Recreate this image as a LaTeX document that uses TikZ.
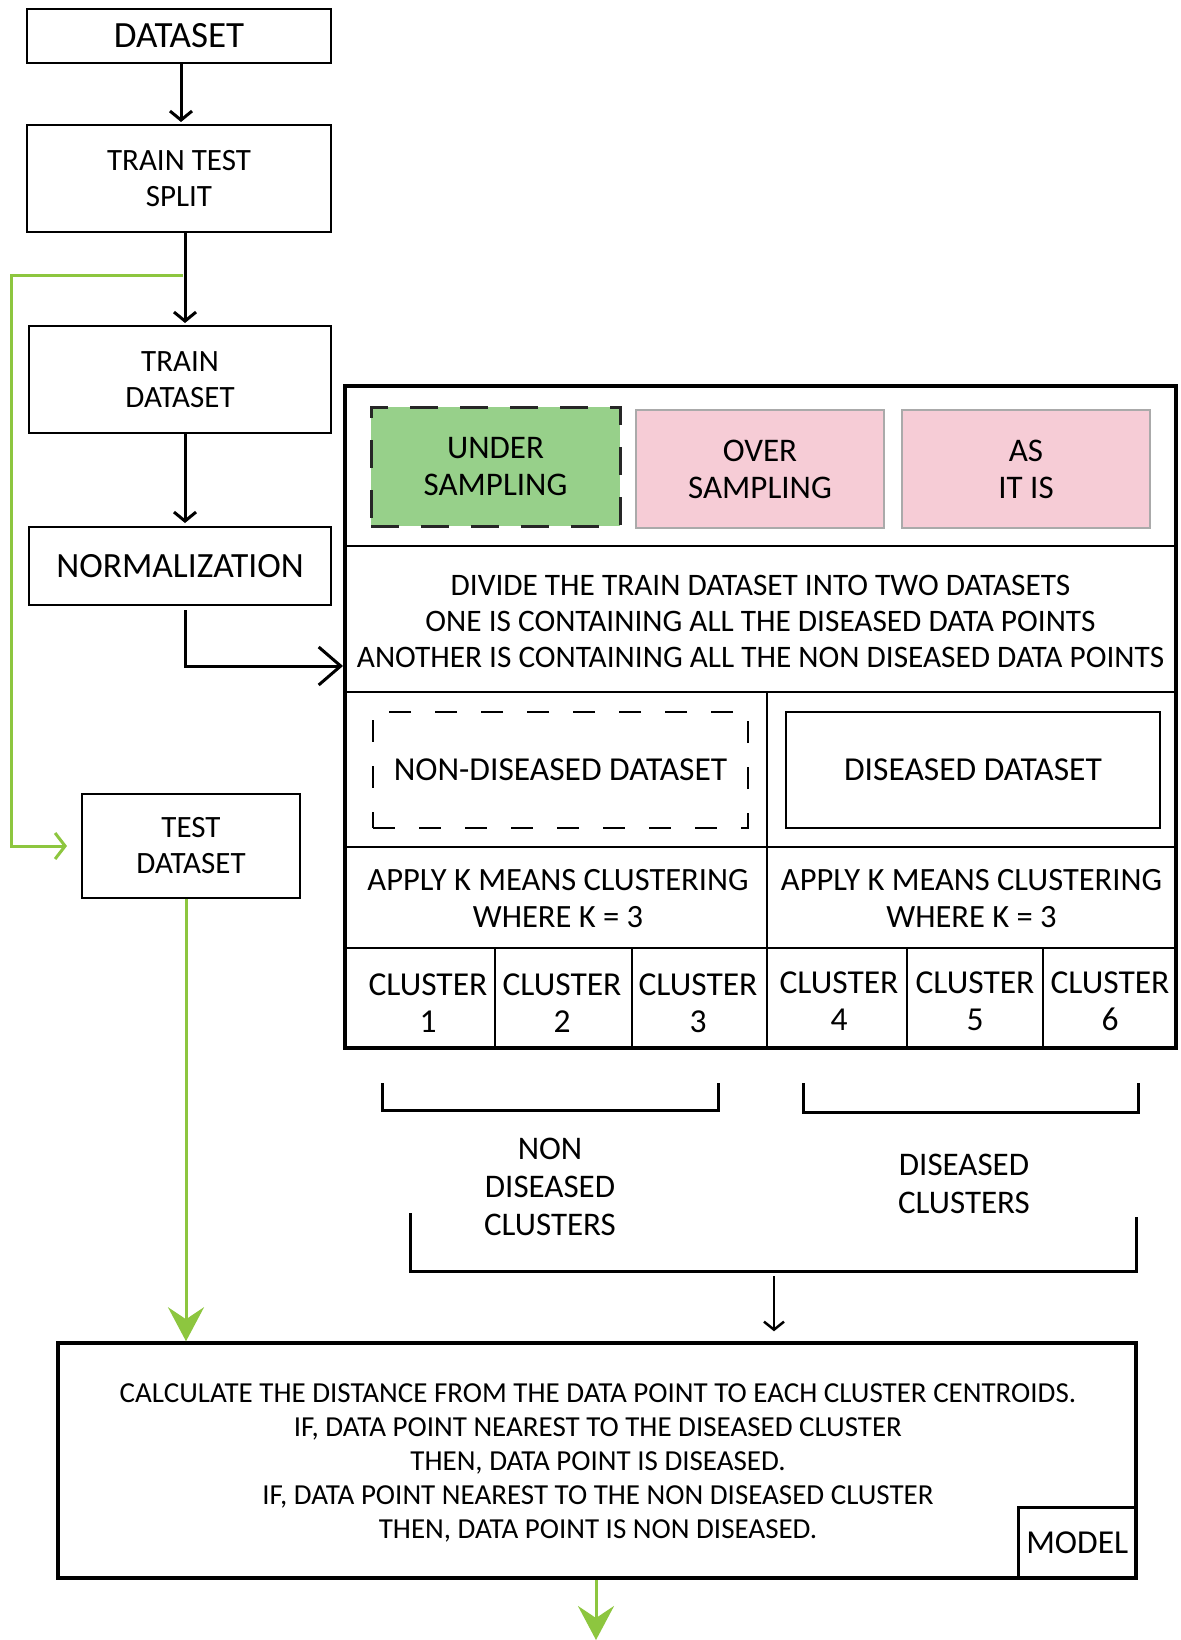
\documentclass[tikz,border=0pt]{standalone}
\usepackage{fontspec}
\setmainfont{Carlito}
\usetikzlibrary{arrows.meta,calc}
\newcommand\fsz[2]{\fontsize{#1}{#2}\selectfont}
\definecolor{leaf}{HTML}{8DC63F}
\definecolor{mint}{HTML}{97D08A}
\definecolor{blush}{HTML}{F6CCD6}
\definecolor{frame}{HTML}{AAAAAA}

\begin{document}
\begin{tikzpicture}[x=1pt,y=-1pt,
  box/.style={draw, line width=2pt, align=center, inner sep=0pt, font=\fsz{31}{36}},
  label/.style={align=center, inner sep=0pt, font=\fsz{33.5}{37}},
  pinkbox/.style={draw=frame, fill=blush, line width=1.5pt, align=center, inner sep=0pt,
    minimum width=248pt, minimum height=118pt, font=\fsz{33}{37}},
  arr/.style={line width=3pt, -{Straight Barb[length=9pt,width=22pt,line width=3pt]}},
  gline/.style={draw=leaf, line width=3pt},
  garr/.style={gline, -{Straight Barb[length=10pt,width=26pt,line width=3pt]}},
  gbig/.style={gline, -{Stealth[length=34pt,width=36pt,inset=12pt]}, leaf},
  rule/.style={line width=2pt},
]
\useasboundingbox (0,0) rectangle (1180,1640);

% left column
\node[box, minimum width=304pt, minimum height=54pt, font=\fsz{37}{40}] (dataset) at (179,36) {DATASET};
\node[box, minimum width=304pt, minimum height=107pt] (split) at (179,178.5) {TRAIN TEST\\SPLIT};
\node[box, minimum width=302pt, minimum height=107pt] (train) at (180,379.5) {TRAIN\\DATASET};
\node[box, minimum width=302pt, minimum height=78pt, font=\fsz{35.5}{40}] (norm) at (180,566) {NORMALIZATION};
\node[box, minimum width=218pt, minimum height=104pt] (test) at (191,846) {TEST\\DATASET};

\draw[arr, shorten >=2pt] (dataset.south -| 181,0) -- (split.north -| 181,0);
\coordinate (fork) at (183,275);
\draw[arr, shorten >=2pt] (split.south -| 185,0) -- (train.north -| 185,0);
\draw[arr, shorten >=3pt] (train.south -| 185,0) -- (norm.north -| 185,0);

% main processing block
\node[draw, line width=4pt, minimum width=831pt, minimum height=662pt, inner sep=0pt] (main) at (760.5,717) {};

\draw[arr, -{Straight Barb[length=22pt,width=38pt,line width=3pt]}] ($(norm.south -| 185,0)+(0,4)$) |- (main.west |- 0,666);

\node[draw=black!85, dash pattern=on 28pt off 22pt, line width=3pt, fill=mint, align=center,
  inner sep=0pt, minimum width=249pt, minimum height=119pt, font=\fsz{33}{37}] (under) at (495.5,466.5) {UNDER\\SAMPLING};
\node[pinkbox] (over) at (760,469) {OVER\\SAMPLING};
\node[pinkbox] (asis) at (1026,469) {AS\\IT IS};

\draw[rule] (main.west |- 0,546) -- (main.east |- 0,546);
\node[label, font=\fsz{31.3}{36}] (divide) at (760.5,621) {DIVIDE THE TRAIN DATASET INTO TWO DATASETS\\ONE IS CONTAINING ALL THE DISEASED DATA POINTS\\ANOTHER IS CONTAINING ALL THE NON DISEASED DATA POINTS};
\draw[rule] (main.west |- 0,692) -- (main.east |- 0,692);
\draw[rule] (767,692) -- (767,1048);

\node[draw, dash pattern=on 22pt off 24pt, line width=2pt, minimum width=375pt, minimum height=116pt,
  inner sep=0pt, font=\fsz{33.5}{37}] (nondis) at (560.5,770) {NON-DISEASED DATASET};
\node[draw, line width=2pt, minimum width=374pt, minimum height=116pt,
  inner sep=0pt, font=\fsz{33.5}{37}] (dis) at (973,770) {DISEASED DATASET};

\draw[rule] (main.west |- 0,847) -- (main.east |- 0,847);
\node[label, font=\fsz{32.5}{37}] (apply1) at (558,899) {APPLY K MEANS CLUSTERING\\WHERE K = 3};
\node[label, font=\fsz{32.5}{37}] (apply2) at (971.5,899) {APPLY K MEANS CLUSTERING\\WHERE K = 3};
\draw[rule] (main.west |- 0,948) -- (main.east |- 0,948);
\foreach \xx in {495,632,907,1043} \draw[rule] (\xx,948) -- (\xx,1048);

\node[label] (c1) at (428,1003) {CLUSTER\\1};
\node[label] (c2) at (562,1003) {CLUSTER\\2};
\node[label] (c3) at (698,1003) {CLUSTER\\3};
\node[label] (c4) at (839,1001) {CLUSTER\\4};
\node[label] (c5) at (975,1001) {CLUSTER\\5};
\node[label] (c6) at (1110,1001) {CLUSTER\\6};

% grouping brackets
\draw[line width=3pt] (382,1083) -- (382,1110) -- (718,1110) -- (718,1083);
\draw[line width=3pt] (803,1083) -- (803,1112) -- (1138,1112) -- (1138,1083);
\node[label, font=\fsz{33}{38}] (nondiscl) at (550,1187) {NON\\DISEASED\\CLUSTERS};
\node[label, font=\fsz{33}{38}] (discl) at (964,1184) {DISEASED\\CLUSTERS};
\draw[line width=3pt] (410,1213) -- (410,1271) -- (1136,1271) -- (1136,1217);
\coordinate (merge) at (774,1276);

% model
\node[draw, line width=3.5pt, minimum width=1078pt, minimum height=235pt, inner sep=0pt] (model) at (597,1460.5) {};
\node[align=center, inner sep=0pt, font=\fsz{29}{34}] (rules) at (598,1463) {CALCULATE THE DISTANCE FROM THE DATA POINT TO EACH CLUSTER CENTROIDS.\\IF, DATA POINT NEAREST TO THE DISEASED CLUSTER\\THEN, DATA POINT IS DISEASED.\\IF, DATA POINT NEAREST TO THE NON DISEASED CLUSTER\\THEN, DATA POINT IS NON DISEASED.};
\node[draw, line width=3pt, anchor=south east, minimum width=118pt, minimum height=71pt,
  inner sep=0pt, font=\fsz{33.5}{36}] (tag) at (model.south east) {MODEL};

\draw[line width=2.5pt, -{Straight Barb[length=8pt,width=20pt,line width=2.5pt]}, shorten >=10pt] (merge) -- (model.north -| merge);

% test-set path
\draw[garr, shorten >=14pt] (fork) -- (11,275) |- (test.west);
\draw[gbig] (test.south -| 186,0) -- (model.north -| 186,0);
\coordinate (out) at (596,1640);
\draw[gbig] (model.south -| out) -- (out);
\end{tikzpicture}
\end{document}
